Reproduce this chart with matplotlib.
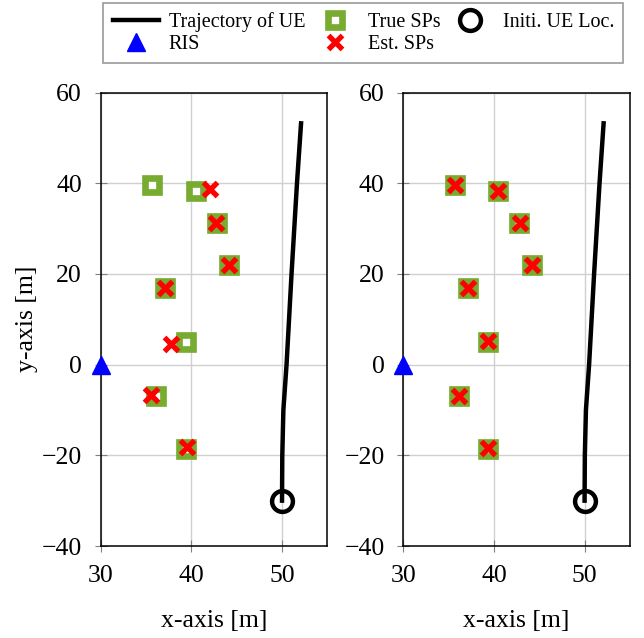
import numpy as np
import matplotlib
matplotlib.use('Agg')
import matplotlib.pyplot as plt

plt.rcParams['font.family'] = ['Liberation Serif', 'DejaVu Serif']

# trajectory of UE
traj_x = [50.0, 50.03, 50.15, 50.5, 51.05, 51.65, 52.1]
traj_y = [-30.0, -20.0, -10.0, 0.0, 20.0, 40.0, 53.2]

ue_init = (50, -30)
ris = (30, 0)

# true scattering points (same in both panels)
true_x = [35.7, 40.5, 42.8, 44.2, 37.1, 39.4, 36.1, 39.4]
true_y = [39.5, 38.3, 31.2, 22.0, 17.0, 5.0, -6.9, -18.6]

# estimated scattering points, left panel
est_left_x = [42.0, 42.7, 44.1, 37.1, 37.7, 35.5, 39.5]
est_left_y = [38.8, 31.2, 22.0, 17.0, 4.6, -6.7, -18.1]

# estimated scattering points, right panel
est_right_x = [35.7, 40.5, 42.9, 44.2, 37.1, 39.3, 36.1, 39.3]
est_right_y = [39.5, 38.3, 31.2, 22.0, 17.0, 5.1, -6.9, -18.4]

green = '#77AC30'

fig = plt.figure(figsize=(6.44, 6.38), dpi=100)
ax1 = fig.add_axes([0.1564, 0.1442, 0.3519, 0.7108])
ax2 = fig.add_axes([0.6262, 0.1442, 0.3519, 0.7108])

handles = None
for ax, ex, ey in [(ax1, est_left_x, est_left_y), (ax2, est_right_x, est_right_y)]:
    h1, = ax.plot(traj_x, traj_y, 'k-', lw=3.2, zorder=3, label='Trajectory of UE')
    h2, = ax.plot([ris[0]], [ris[1]], '^', color='blue', ms=13, mec='blue',
                  zorder=5, clip_on=False, label='RIS')
    h3, = ax.plot(true_x, true_y, 's', ms=9.5, mfc='white', mec=green, mew=4.8,
                  ls='none', zorder=4, label='True SPs')
    h4, = ax.plot(ex, ey, 'x', ms=10, mew=3.8, color='red', ls='none',
                  zorder=6, label='Est. SPs')
    h5, = ax.plot([ue_init[0]], [ue_init[1]], 'o', ms=15, mfc='none', mec='k',
                  mew=3.2, zorder=7, label='Initi. UE Loc.')
    handles = [h1, h2, h3, h4, h5]

    ax.set_xlim(30, 55)
    ax.set_ylim(-40, 60)
    ax.set_xticks([30, 40, 50])
    ax.set_yticks([-40, -20, 0, 20, 40, 60])
    ax.grid(True, color='#d0d0d0', lw=1)
    ax.set_axisbelow(True)
    ax.tick_params(direction='inout', length=9, color='#808080', labelsize=18.5,
                   top=False, right=False, pad=9)
    for sp in ax.spines.values():
        sp.set_linewidth(1.1)
    ax.set_xlabel('x-axis [m]', fontsize=18.5, labelpad=17)

ax1.set_ylabel('y-axis [m]', fontsize=18.5, labelpad=3)

leg = fig.legend(handles=handles, ncol=3, loc='upper center',
                 bbox_to_anchor=(0.5644, 1.0), fontsize=14.5, frameon=True,
                 fancybox=False, edgecolor='#808080', handlelength=2.3,
                 columnspacing=0.3, handletextpad=0.5, labelspacing=0.15,
                 borderpad=0.45, borderaxespad=0.15)
leg.get_frame().set_linewidth(1.2)

fig.savefig('out.png', dpi=100)
